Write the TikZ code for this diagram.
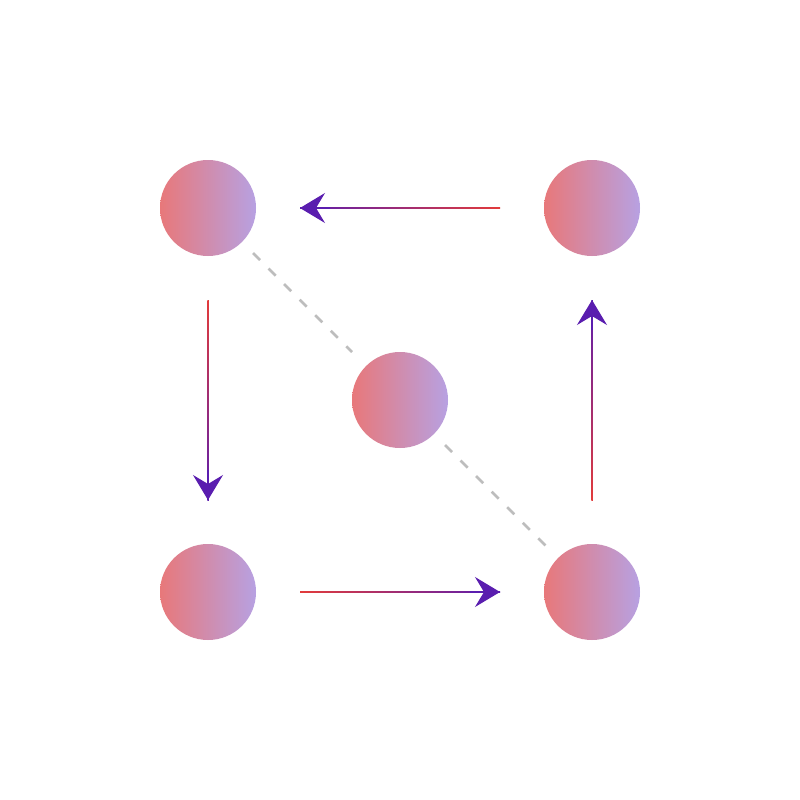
\documentclass[tikz,border=0pt]{standalone}
\usetikzlibrary{arrows.meta}
\definecolor{cl}{HTML}{E8787A}
\definecolor{cr}{HTML}{B7A1E2}
\definecolor{lred}{HTML}{E23B3B}
\definecolor{lpur}{HTML}{5A1DAF}
\definecolor{dgray}{HTML}{BDBDBD}
\tikzset{
  x=1pt, y=-1pt,
  ball/.style={circle, minimum size=96pt, inner sep=0pt, left color=cl, right color=cr, draw=none},
  headtip/.style={draw=lpur, line width=1.5pt, -{Stealth[length=25pt,width=30pt,inset=9pt,fill=lpur]}},
  link/.style={draw=dgray, line width=2.5pt, dash pattern=on 10pt off 12pt},
}
\begin{document}
\begin{tikzpicture}
\useasboundingbox (0,0) rectangle (800,800);
\fill[white] (0,0) rectangle (800,800);
% gradient connectors
\coordinate (t1) at (500,208); \coordinate (t2) at (300,208);
\coordinate (l1) at (208,300); \coordinate (l2) at (208,500);
\coordinate (b1) at (300,592); \coordinate (b2) at (500,592);
\coordinate (r1) at (592,500); \coordinate (r2) at (592,300);
\shade[left color=lpur, right color=lred] ([yshift=-0.75pt]t2) rectangle ([yshift=0.75pt]t1);
\shade[top color=lred, bottom color=lpur] ([xshift=-0.75pt]l1) rectangle ([xshift=0.75pt]l2);
\shade[left color=lred, right color=lpur] ([yshift=-0.75pt]b1) rectangle ([yshift=0.75pt]b2);
\shade[top color=lpur, bottom color=lred] ([xshift=-0.75pt]r2) rectangle ([xshift=0.75pt]r1);
\draw[headtip] ([xshift=30pt]t2) -- (t2);
\draw[headtip] ([yshift=30pt]l2) -- (l2);
\draw[headtip] ([xshift=-30pt]b2) -- (b2);
\draw[headtip] ([yshift=-30pt]r2) -- (r2);
% dashed diagonal
\coordinate (d1) at (253,253); \coordinate (d2) at (352,352);
\coordinate (d3) at (445,445); \coordinate (d4) at (547,547);
\draw[link] (d1) -- (d2);
\draw[link] (d3) -- (d4);
% balls
\node[ball] (n1) at (208,208) {};
\node[ball] (n2) at (592,208) {};
\node[ball] (n3) at (400,400) {};
\node[ball] (n4) at (208,592) {};
\node[ball] (n5) at (592,592) {};
\end{tikzpicture}
\end{document}
